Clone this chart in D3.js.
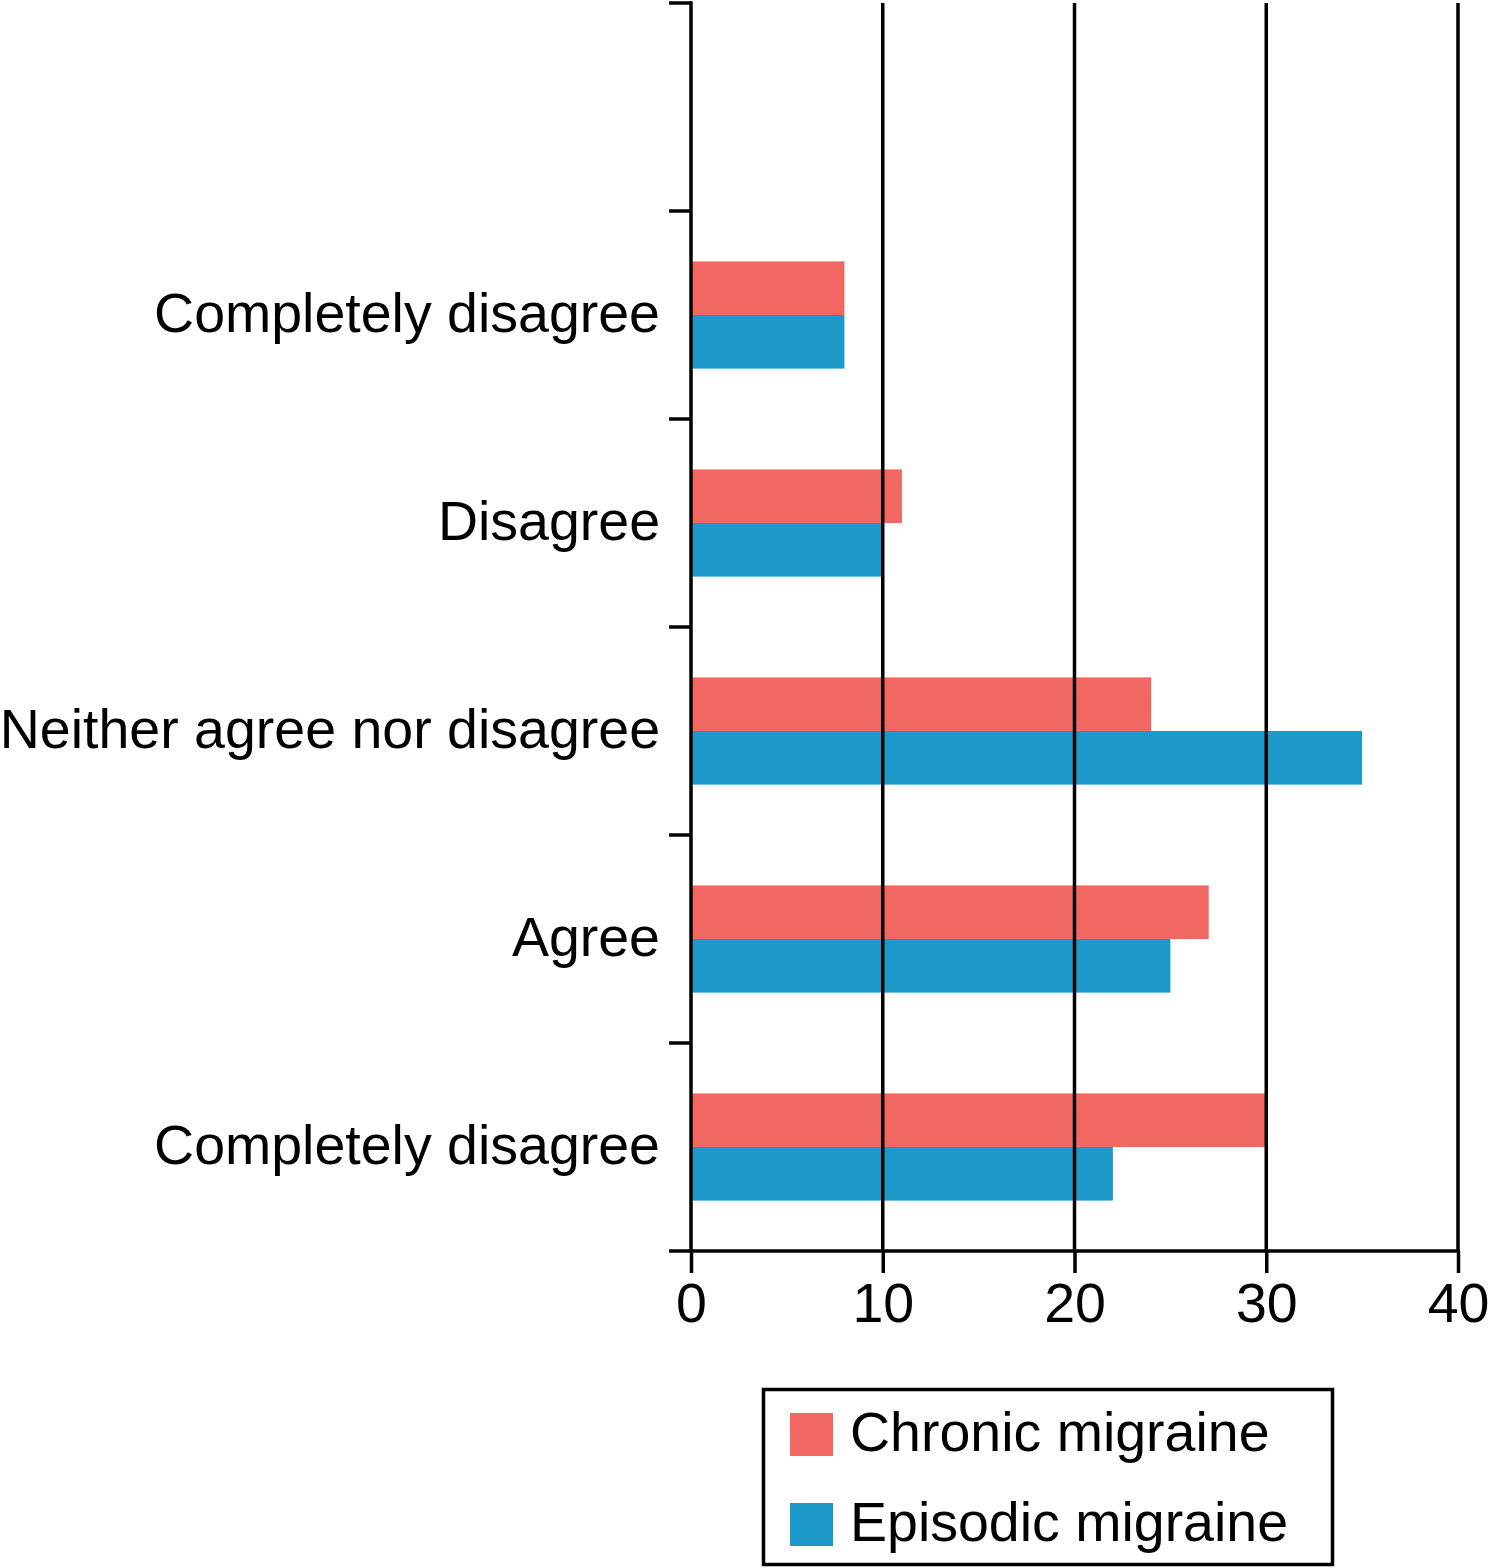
<!DOCTYPE html>
<html>
<head>
<meta charset="utf-8">
<script src="https://cdn.jsdelivr.net/npm/d3@7"></script>
<style>
  body { margin: 0; background: #fff; }
  svg { display: block; font-family: "Liberation Sans", Arial, Helvetica, sans-serif; }
</style>
</head>
<body>
<div id="chart"></div>
<script>
// categories top to bottom (the first band is empty in the original figure)
const categories = ["", "Completely disagree", "Disagree", "Neither agree nor disagree", "Agree", "Completely disagree"];
const chronic = [null, 8, 11, 24, 27, 30];
const episodic = [null, 8, 10, 35, 25, 22];
const seriesNames = ["Chronic migraine", "Episodic migraine"];
const seriesColors = ["#f16862", "#1d99c9"];
const xTicks = [0, 10, 20, 30, 40];

const width = 1491, height = 1568;
const plotLeft = 691, plotRight = 1458, plotTop = 3, plotBottom = 1251;
const lineW = 3.5;
const fontSize = 55.5;

const svg = d3.select("#chart").append("svg")
  .attr("width", width)
  .attr("height", height);

const keys = categories.map((c, i) => i);

const x = d3.scaleLinear().domain([0, 40]).range([plotLeft, plotRight]);
const y = d3.scaleBand().domain(keys).range([plotTop, plotBottom]).padding(0);
const ySub = d3.scaleBand()
  .domain(seriesNames)
  .range([0, y.bandwidth()])
  .paddingInner(0)
  .paddingOuter(0.94);

// rows for the grouped bars
const rows = keys.map(i => ({
  key: i,
  values: [
    { name: seriesNames[0], value: chronic[i] },
    { name: seriesNames[1], value: episodic[i] }
  ]
}));

const color = d3.scaleOrdinal().domain(seriesNames).range(seriesColors);

// bars
svg.append("g")
  .selectAll("g")
  .data(rows)
  .enter().append("g")
    .attr("transform", d => `translate(0,${y(d.key)})`)
  .selectAll("rect")
  .data(d => d.values.filter(v => v.value != null))
  .enter().append("rect")
    .attr("x", x(0))
    .attr("y", d => ySub(d.name))
    .attr("width", d => x(d.value) - x(0))
    .attr("height", ySub.bandwidth())
    .attr("fill", d => color(d.name));

// vertical grid lines
svg.append("g")
  .selectAll("line")
  .data(xTicks.slice(1))
  .enter().append("line")
    .attr("x1", d => x(d)).attr("x2", d => x(d))
    .attr("y1", plotTop).attr("y2", plotBottom)
    .attr("stroke", "#000").attr("stroke-width", lineW);

// x axis
const xAxis = svg.append("g")
  .attr("transform", `translate(0,${plotBottom})`)
  .call(d3.axisBottom(x).tickValues(xTicks).tickSize(22).tickSizeOuter(0).tickPadding(10));
xAxis.select(".domain").remove();
xAxis.selectAll(".tick line").attr("stroke", "#000").attr("stroke-width", lineW);
xAxis.selectAll(".tick text").attr("font-size", fontSize).attr("fill", "#000")
  .attr("font-family", "Liberation Sans, Arial, sans-serif");
svg.append("line")
  .attr("x1", plotLeft - 22).attr("x2", plotRight + lineW / 2)
  .attr("y1", plotBottom).attr("y2", plotBottom)
  .attr("stroke", "#000").attr("stroke-width", lineW);

// y axis line and band boundary ticks
svg.append("line")
  .attr("x1", plotLeft).attr("x2", plotLeft)
  .attr("y1", plotTop - lineW / 2).attr("y2", plotBottom)
  .attr("stroke", "#000").attr("stroke-width", lineW);

const boundaries = keys.map(k => y(k));
svg.append("g")
  .selectAll("line")
  .data(boundaries)
  .enter().append("line")
    .attr("x1", plotLeft - 22).attr("x2", plotLeft)
    .attr("y1", d => d).attr("y2", d => d)
    .attr("stroke", "#000").attr("stroke-width", lineW);

// category labels
svg.append("g")
  .selectAll("text")
  .data(keys)
  .enter().append("text")
    .attr("x", plotLeft - 31)
    .attr("y", d => y(d) + y.bandwidth() / 2)
    .attr("dy", "0.3em")
    .attr("text-anchor", "end")
    .attr("font-size", fontSize)
    .attr("fill", "#000")
    .text(d => categories[d]);

// legend
const legend = svg.append("g");
legend.append("rect")
  .attr("x", 763.5).attr("y", 1389.5)
  .attr("width", 569).attr("height", 175)
  .attr("fill", "none").attr("stroke", "#000").attr("stroke-width", lineW);

const legendY = d3.scalePoint().domain(seriesNames).range([1413, 1503]);
const items = legend.selectAll("g.item")
  .data(seriesNames)
  .enter().append("g").attr("class", "item")
    .attr("transform", d => `translate(790,${legendY(d)})`);
items.append("rect")
  .attr("width", 43).attr("height", 43)
  .attr("fill", d => color(d));
items.append("text")
  .attr("x", 60).attr("y", 38)
  .attr("font-size", fontSize)
  .attr("fill", "#000")
  .text(d => d);
</script>
</body>
</html>
